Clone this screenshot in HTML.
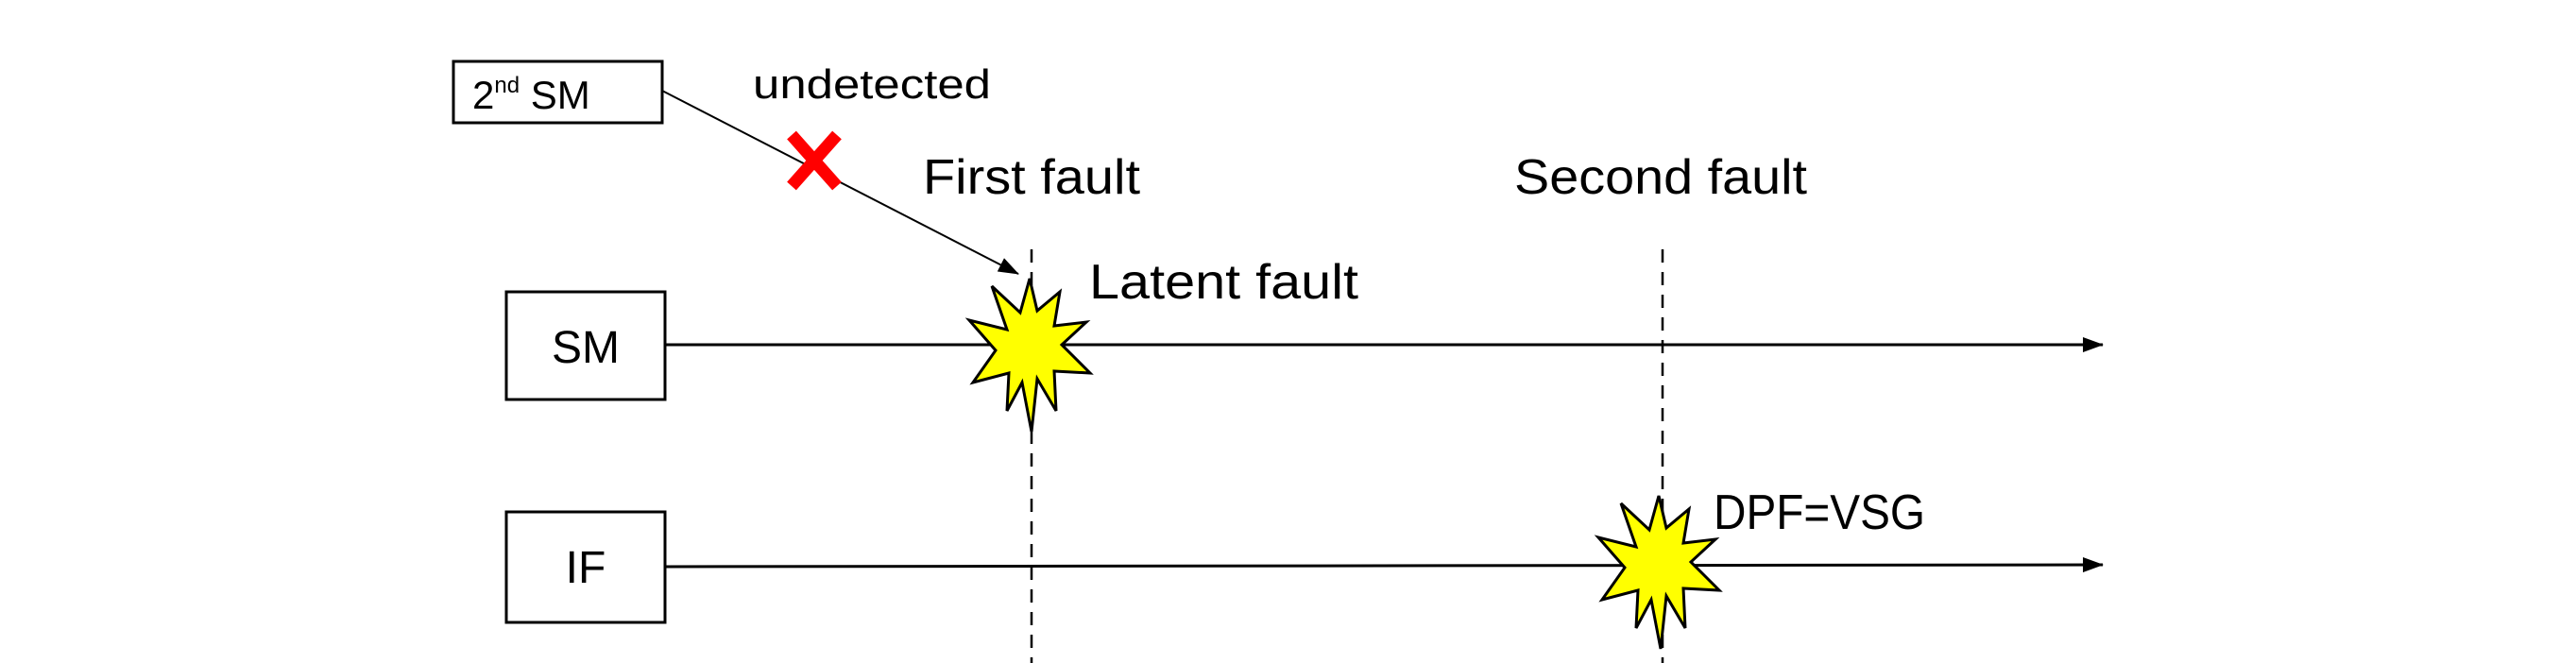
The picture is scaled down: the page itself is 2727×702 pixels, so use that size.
<!DOCTYPE html>
<html><head><style>html,body{margin:0;padding:0;background:#fff}svg{display:block}</style></head>
<body>
<svg width="2727" height="702" viewBox="0 0 2727 702" xmlns="http://www.w3.org/2000/svg" font-family="'Liberation Sans', sans-serif">
<defs>
<marker id="ah2" markerWidth="22" markerHeight="16" refX="21" refY="8" orient="auto" markerUnits="userSpaceOnUse" viewBox="0 0 22 16">
<path d="M0,0 L22,8 L0,16 z" fill="#000"/></marker>
<polygon id="burst" points="0,-70 8,-36 32,-56 26,-20 60,-24 34,0 64,30 26,28 28,70 8,36 2,92 -8,40 -24,70 -22,30 -60,40 -36,6 -64,-26 -24,-16 -40,-62 -10,-34" fill="#ffff00" stroke="#000" stroke-width="3" stroke-linejoin="miter"/>
</defs>
<line x1="1092" y1="264" x2="1092" y2="702" stroke="#000" stroke-width="2.5" stroke-dasharray="14,10"/>
<line x1="1760" y1="264" x2="1760" y2="702" stroke="#000" stroke-width="2.5" stroke-dasharray="14,10"/>
<rect x="480" y="65" width="221" height="65" fill="#fff" stroke="#000" stroke-width="3"/>
<text x="500" y="115" font-size="42">2<tspan font-size="24" dy="-17">nd</tspan><tspan dy="17"> SM</tspan></text>
<rect x="536" y="309" width="168" height="114" fill="#fff" stroke="#000" stroke-width="3"/>
<text x="620" y="384" font-size="48" text-anchor="middle">SM</text>
<rect x="536" y="542" width="168" height="117" fill="#fff" stroke="#000" stroke-width="3"/>
<text x="620" y="617" font-size="48" text-anchor="middle">IF</text>
<line x1="704" y1="365" x2="2226" y2="365" stroke="#000" stroke-width="3" marker-end="url(#ah2)"/>
<line x1="704" y1="600" x2="2226" y2="598" stroke="#000" stroke-width="3" marker-end="url(#ah2)"/>
<line x1="701" y1="96" x2="1078" y2="290" stroke="#000" stroke-width="2" marker-end="url(#ah2)"/>
<g stroke="#ff0000" stroke-width="13">
<line x1="838" y1="143" x2="886" y2="197"/>
<line x1="886" y1="143" x2="838" y2="197"/>
</g>
<use href="#burst" transform="translate(1090,365)"/>
<use href="#burst" transform="translate(1756,595)"/>
<text x="797" y="104" font-size="44" textLength="252" lengthAdjust="spacingAndGlyphs">undetected</text>
<text x="977" y="205" font-size="52" textLength="230" lengthAdjust="spacingAndGlyphs">First fault</text>
<text x="1603" y="205" font-size="52" textLength="310" lengthAdjust="spacingAndGlyphs">Second fault</text>
<text x="1153" y="316" font-size="52" textLength="285" lengthAdjust="spacingAndGlyphs">Latent fault</text>
<text x="1814" y="560" font-size="52" textLength="224" lengthAdjust="spacingAndGlyphs">DPF=VSG</text>
</svg>
</body></html>
